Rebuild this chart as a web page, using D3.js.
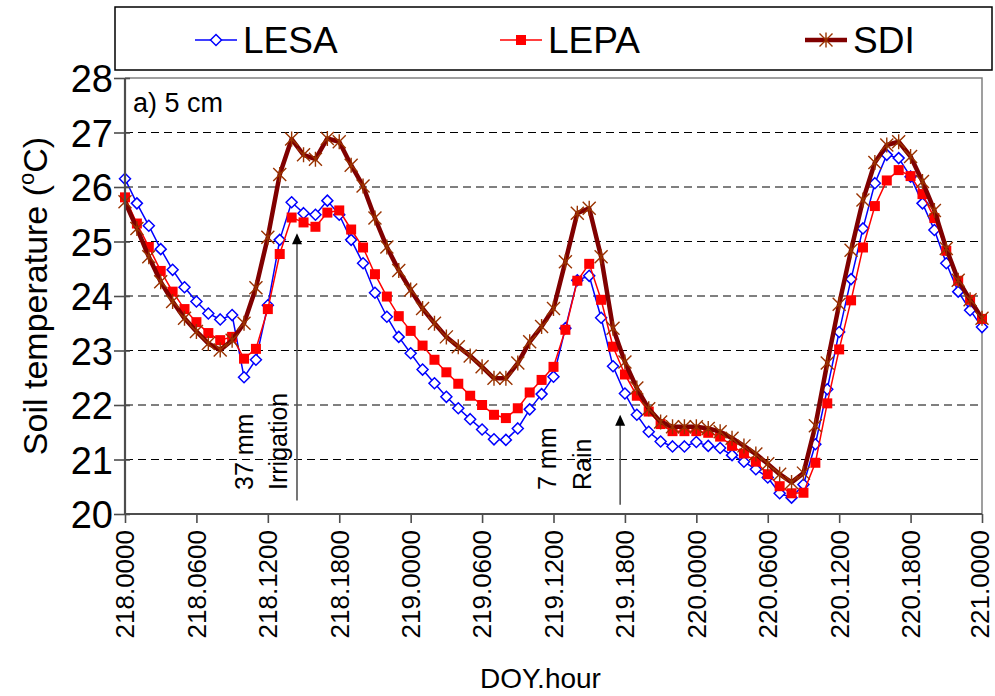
<!DOCTYPE html>
<html>
<head>
<meta charset="utf-8">
<script src="https://cdn.jsdelivr.net/npm/d3@7/dist/d3.min.js"></script>
<style>
  html, body { margin: 0; padding: 0; background: #fff; }
  svg { display: block; font-family: Arial, "Liberation Sans", sans-serif; }
</style>
</head>
<body>
<svg id="chart" width="995" height="696"></svg>
<script>
// ---------------- data ----------------
const hours = [0,1,2,3,4,5,6,7,8,9,10,11,12,13,14,15,16,17,18,19,20,21,22,23,24,
  25,26,27,28,29,30,31,32,33,34,35,36,37,38,39,40,41,42,43,44,45,46,47,48,
  49,50,51,52,53,54,55,56,57,58,59,60,61,62,63,64,65,66,67,68,69,70,71,72];

const lesa = [26.15,25.70,25.29,24.86,24.48,24.16,23.90,23.68,23.57,23.65,22.51,22.83,23.83,
  25.03,25.72,25.52,25.49,25.75,25.49,25.03,24.60,24.06,23.62,23.25,22.95,
  22.65,22.40,22.15,21.94,21.74,21.55,21.37,21.36,21.57,21.92,22.20,22.52,
  23.41,24.29,24.37,23.60,22.71,22.21,21.82,21.51,21.33,21.24,21.24,21.32,
  21.25,21.21,21.08,20.96,20.82,20.67,20.38,20.30,20.54,21.28,22.29,23.34,
  24.31,25.24,26.07,26.59,26.53,26.19,25.70,25.21,24.60,24.08,23.74,23.43];

const lepa = [25.81,25.33,24.90,24.46,24.08,23.76,23.52,23.32,23.19,23.25,22.85,23.03,23.76,
  24.77,25.44,25.35,25.27,25.53,25.57,25.22,24.89,24.40,23.99,23.63,23.36,
  23.09,22.83,22.60,22.39,22.17,22.00,21.82,21.76,21.94,22.23,22.46,22.70,
  23.38,24.28,24.59,23.93,23.07,22.56,22.17,21.88,21.65,21.52,21.52,21.52,
  21.49,21.42,21.25,21.11,20.96,20.73,20.51,20.38,20.39,20.94,22.03,23.02,
  23.92,24.89,25.65,26.12,26.31,26.20,25.87,25.43,24.83,24.28,23.93,23.58];

const sdi = [25.73,25.24,24.72,24.26,23.90,23.59,23.35,23.13,23.01,23.19,23.50,24.15,25.08,
  26.23,26.88,26.59,26.51,26.89,26.83,26.40,26.02,25.43,24.90,24.47,24.11,
  23.77,23.50,23.25,23.07,22.90,22.70,22.49,22.49,22.77,23.16,23.44,23.77,
  24.63,25.52,25.61,24.72,23.41,22.79,22.31,21.93,21.69,21.60,21.60,21.60,
  21.57,21.51,21.39,21.25,21.10,20.92,20.73,20.58,20.75,21.62,22.77,23.85,
  24.84,25.76,26.45,26.77,26.83,26.56,26.10,25.57,24.87,24.29,23.93,23.59];

const xTickHours = [0,6,12,18,24,30,36,42,48,54,60,66,72];
const xTickLabels = ["218.0000","218.0600","218.1200","218.1800","219.0000","219.0600",
  "219.1200","219.1800","220.0000","220.0600","220.1200","220.1800","221.0000"];
const yTicks = [20,21,22,23,24,25,26,27,28];
const seriesNames = ["LESA","LEPA","SDI"];

// ---------------- layout ----------------
const svg = d3.select("#chart");
const L = 125, R = 982, T = 78, B = 514;
const x = d3.scaleLinear().domain([0, 72]).range([L, R]);
const y = d3.scaleLinear().domain([20, 28]).range([B, T]);
const FONT = 'Arial, "Liberation Sans", sans-serif';

// grid lines
svg.append("g").selectAll("line")
  .data(yTicks.filter(v => v > 20 && v < 28))
  .join("line")
  .attr("x1", L).attr("x2", R)
  .attr("y1", d => y(d)).attr("y2", d => y(d))
  .attr("stroke", "#000").attr("stroke-width", 1)
  .attr("stroke-dasharray", "8,5");

// plot-area border (top & right)
svg.append("path")
  .attr("d", `M${L},${T}H${R}V${B}`)
  .attr("fill", "none").attr("stroke", "#808080").attr("stroke-width", 1.5);

// ---------------- series ----------------
const line = d3.line().x((d, i) => x(hours[i])).y(d => y(d));

function drawLESA(g, px, py) {
  const s = 5.5;
  g.append("path").attr("transform", `translate(${px},${py})`)
    .attr("d", `M0,${-s}L${s},0L0,${s}L${-s},0Z`)
    .attr("fill", "#fff").attr("stroke", "#0000ff").attr("stroke-width", 1.5);
}
function drawLEPA(g, px, py) {
  g.append("rect").attr("x", px - 5).attr("y", py - 5)
    .attr("width", 10).attr("height", 10).attr("fill", "#ff0000");
}
function drawSDI(g, px, py) {
  const s = 6.5;
  g.append("path").attr("transform", `translate(${px},${py})`)
    .attr("d", `M${-s},${-s}L${s},${s}M${-s},${s}L${s},${-s}M0,${-s - 1}L0,${s + 1}`)
    .attr("fill", "none").attr("stroke", "#993300").attr("stroke-width", 1.4);
}

// LESA
const gA = svg.append("g");
gA.append("path").datum(lesa).attr("d", line)
  .attr("fill", "none").attr("stroke", "#0000ff").attr("stroke-width", 1.5);
lesa.forEach((v, i) => drawLESA(gA, x(hours[i]), y(v)));

// LEPA
const gB = svg.append("g");
gB.append("path").datum(lepa).attr("d", line)
  .attr("fill", "none").attr("stroke", "#ff0000").attr("stroke-width", 1.5);
lepa.forEach((v, i) => drawLEPA(gB, x(hours[i]), y(v)));

// SDI
const gC = svg.append("g");
gC.append("path").datum(sdi).attr("d", line)
  .attr("fill", "none").attr("stroke", "#800000").attr("stroke-width", 4.5)
  .attr("stroke-linejoin", "round");
sdi.forEach((v, i) => drawSDI(gC, x(hours[i]), y(v)));

// ---------------- axes ----------------
const axisColor = "#4d4d4d";
const yAxis = svg.append("g").attr("transform", `translate(${L},0)`)
  .call(d3.axisLeft(y).tickValues(yTicks).tickSize(11).tickPadding(1).tickFormat(d3.format("d")));
yAxis.select(".domain").attr("stroke", axisColor).attr("stroke-width", 2.2)
  .attr("d", `M0,${T}V${B}`);
yAxis.selectAll(".tick line").attr("stroke", axisColor).attr("stroke-width", 1.6)
  .attr("x2", -11).attr("x1", 5);
yAxis.selectAll(".tick text").attr("font-size", 38).attr("font-family", FONT)
  .attr("fill", "#000").attr("dy", "0.36em");

const xAxis = svg.append("g").attr("transform", `translate(0,${B})`)
  .call(d3.axisBottom(x).tickValues(xTickHours).tickSize(9)
    .tickFormat((d, i) => xTickLabels[i]));
xAxis.select(".domain").attr("stroke", axisColor).attr("stroke-width", 2.2)
  .attr("d", `M${L},0H${R}`);
xAxis.selectAll(".tick line").attr("stroke", axisColor).attr("stroke-width", 1.6);
xAxis.selectAll(".tick text")
  .attr("font-size", 26).attr("font-family", FONT).attr("fill", "#000")
  .attr("text-anchor", "end")
  .attr("transform", "rotate(-90)")
  .attr("x", -16).attr("y", (d, i) => i === xTickHours.length - 1 ? -2 : 0)
  .attr("dy", "0.34em");

// axis titles
svg.append("text").attr("x", (L + R) / 2 - 13).attr("y", 688)
  .attr("text-anchor", "middle").attr("font-size", 28).attr("font-family", FONT)
  .text("DOY.hour");

const yt = svg.append("text")
  .attr("transform", `translate(47,${(T + B) / 2}) rotate(-90)`)
  .attr("text-anchor", "middle").attr("font-size", 34).attr("font-family", FONT);
yt.append("tspan").text("Soil temperature (");
yt.append("tspan").attr("font-size", 22).attr("dy", -13).text("o");
yt.append("tspan").attr("dy", 13).text("C)");

// panel label
svg.append("text").attr("x", 133).attr("y", 112)
  .attr("font-size", 27).attr("font-family", FONT).text("a) 5 cm");

// ---------------- annotations ----------------
function vText(txt, px, py) {
  svg.append("text").attr("transform", `translate(${px},${py}) rotate(-90)`)
    .attr("font-size", 25).attr("font-family", FONT).attr("text-anchor", "start")
    .text(txt);
}
function arrow(h, v0, v1) {
  const px = x(h);
  svg.append("line").attr("x1", px).attr("x2", px).attr("y1", y(v0)).attr("y2", y(v1) + 8)
    .attr("stroke", "#555").attr("stroke-width", 1.6);
  svg.append("path")
    .attr("d", `M${px},${y(v1)}L${px - 5},${y(v1) + 11}L${px + 5},${y(v1) + 11}Z`)
    .attr("fill", "#000");
}
vText("37 mm", 253, y(20.44));
vText("Irrigation", 287, y(20.44));
arrow(14.45, 20.25, 25.15);
vText("7 mm", 556, y(20.44));
vText("Rain", 591, y(20.44));
arrow(41.6, 20.17, 21.82);

// ---------------- legend ----------------
const lg = svg.append("g");
lg.append("rect").attr("x", 115).attr("y", 7).attr("width", 877).attr("height", 63)
  .attr("fill", "#fff").attr("stroke", "#000").attr("stroke-width", 1.5);
const legX = [195, 500, 805];
const legColors = ["#0000ff", "#ff0000", "#800000"];
const legWidths = [1.5, 1.5, 4.5];
const drawers = [drawLESA, drawLEPA, drawSDI];
seriesNames.forEach((name, i) => {
  const lx = legX[i], ly = 40;
  lg.append("line").attr("x1", lx).attr("x2", lx + 42).attr("y1", ly).attr("y2", ly)
    .attr("stroke", legColors[i]).attr("stroke-width", legWidths[i]);
  drawers[i](lg, lx + 21, ly);
  lg.append("text").attr("x", lx + 48).attr("y", ly + 13)
    .attr("font-size", 37).attr("font-family", FONT).text(name);
});
</script>
</body>
</html>
